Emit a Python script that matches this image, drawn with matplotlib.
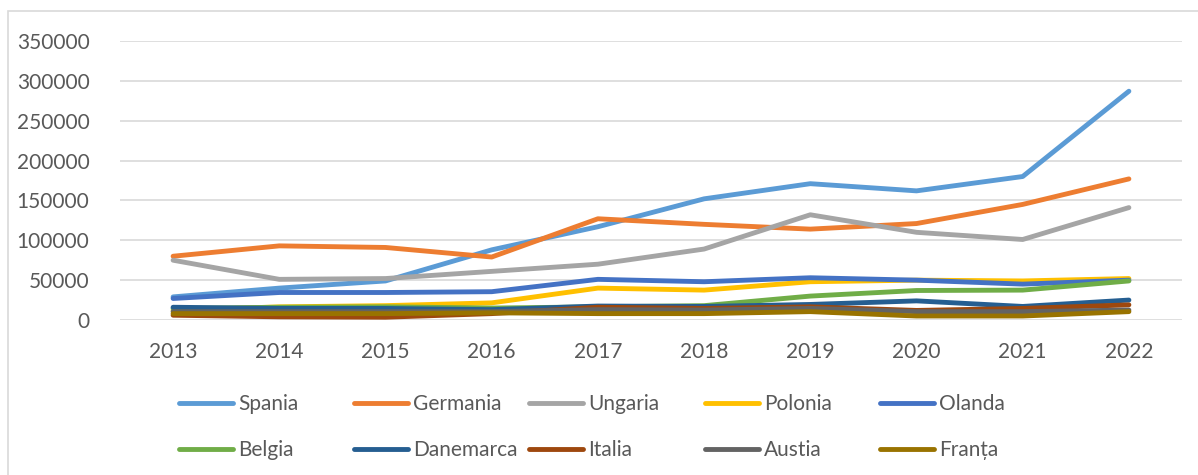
import matplotlib.pyplot as plt
from matplotlib.lines import Line2D
from matplotlib.patches import Rectangle

plt.rcParams['font.family'] = ['Lato', 'DejaVu Sans']

years = ['2013', '2014', '2015', '2016', '2017', '2018', '2019', '2020', '2021', '2022']

spania    = [29000, 40000, 49000, 88000, 117000, 152000, 171000, 162000, 180000, 287000]
germania  = [80000, 93000, 91000, 79000, 127000, 120000, 114000, 121000, 145000, 177000]
ungaria   = [75000, 51000, 52000, 61000, 70000, 89000, 132000, 110000, 101000, 141000]
polonia   = [12000, 16500, 18000, 21500, 40000, 37500, 48000, 50000, 49000, 52000]
olanda    = [27000, 34500, 34500, 35500, 51000, 48000, 53000, 50000, 45000, 50000]
belgia    = [14500, 16000, 16500, 15000, 16500, 18000, 30000, 37000, 37500, 49000]
danemarca = [16000, 14500, 14500, 13000, 17500, 17000, 19500, 24000, 17000, 25000]
italia    = [6000, 4000, 3500, 8000, 16000, 14500, 16500, 12000, 14500, 19000]
austia    = [10500, 10500, 10500, 10500, 13000, 12500, 14500, 10500, 10500, 12500]
franta    = [8000, 8000, 8000, 9000, 8000, 8000, 10500, 5000, 5000, 10500]

series = [
    ('Spania', spania, '#5B9BD5'),
    ('Germania', germania, '#ED7D31'),
    ('Ungaria', ungaria, '#A5A5A5'),
    ('Polonia', polonia, '#FFC000'),
    ('Olanda', olanda, '#4472C4'),
    ('Belgia', belgia, '#70AD47'),
    ('Danemarca', danemarca, '#255E91'),
    ('Italia', italia, '#9E480E'),
    ('Austia', austia, '#636363'),
    ('Franța', franta, '#997300'),
]

text_col = '#595959'
grid_col = '#D9D9D9'

fig = plt.figure(figsize=(11.98, 4.75), dpi=100)
ax = fig.add_axes([120 / 1198, 1 - 320 / 475, 1062 / 1198, 279 / 475])

# chart frame; right and bottom edges run off the canvas
fig.patches.append(Rectangle((8 / 1198, -0.1), 1.2, 1.1 - 11 / 475,
                             transform=fig.transFigure, fill=False,
                             edgecolor=grid_col, linewidth=1.2))

x = list(range(len(years)))
for name, vals, col in series:
    ax.plot(x, vals, color=col, linewidth=3.5, solid_capstyle='round',
            solid_joinstyle='round', label=name)

ax.set_xlim(-0.5, len(years) - 0.5)
ax.set_ylim(0, 350000)
ax.set_yticks(range(0, 350001, 50000))
ax.set_xticks(x)
ax.set_xticklabels(years)
ax.grid(axis='y', color=grid_col, linewidth=1.2)
ax.set_axisbelow(True)
for side in ['top', 'right', 'left', 'bottom']:
    ax.spines[side].set_visible(False)
ax.tick_params(axis='both', length=0, labelsize=15, labelcolor=text_col)
ax.tick_params(axis='y', pad=22)
ax.tick_params(axis='x', pad=16)

# legend laid out in five evenly spaced columns, two rows
col_x = [179, 354, 529, 705, 880]
for i in range(5):
    handles = []
    for name, vals, col in (series[i], series[i + 5]):
        handles.append(Line2D([], [], color=col, linewidth=3.5,
                              solid_capstyle='round', label=name))
    fig.legend(handles=handles, loc='upper left',
               bbox_to_anchor=(col_x[i] / 1198, 1 - 394 / 475),
               frameon=False, fontsize=15, labelcolor=text_col,
               handlelength=2.6, handletextpad=0.25, labelspacing=1.25,
               borderpad=0, borderaxespad=0)

fig.savefig('out.png', dpi=100)
